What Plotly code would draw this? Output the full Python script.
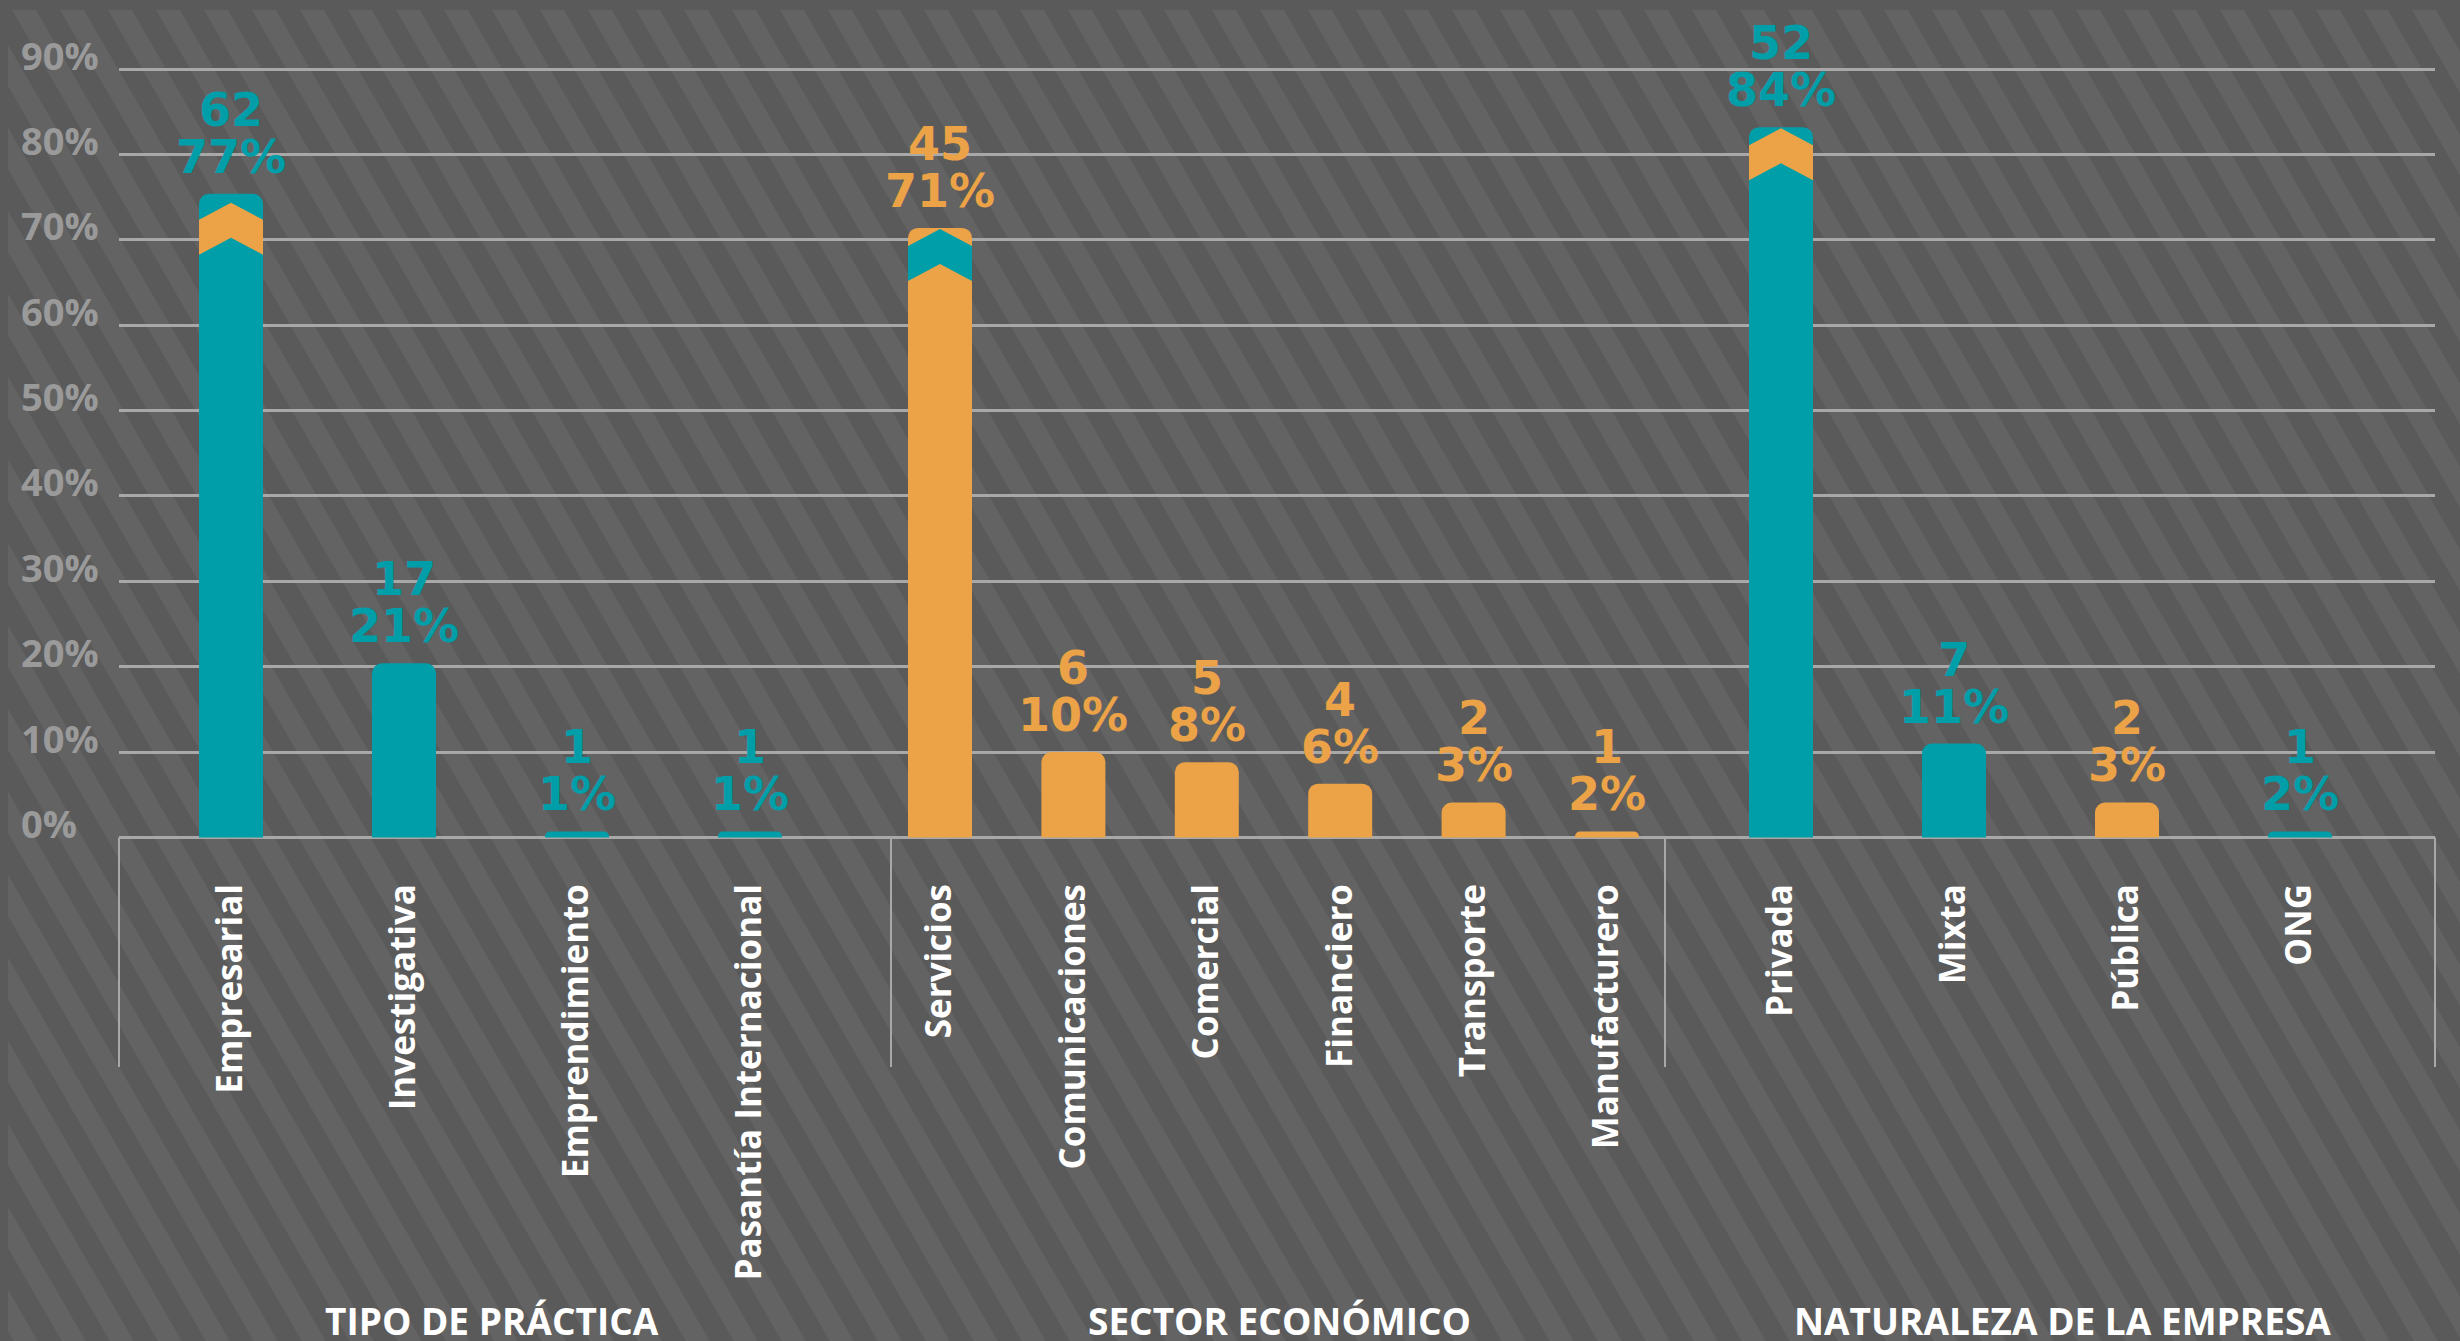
import plotly.graph_objects as go

# ---------------- data ----------------
categories = ["Empresarial", "Investigativa", "Emprendimiento", "Pasantía Internacional",
              "Servicios", "Comunicaciones", "Comercial", "Financiero", "Transporte", "Manufacturero",
              "Privada", "Mixta", "Pública", "ONG"]
group_names = ["TIPO DE PRÁCTICA", "SECTOR ECONÓMICO", "NATURALEZA DE LA EMPRESA"]
group_index = [0, 0, 0, 0, 1, 1, 1, 1, 1, 1, 2, 2, 2, 2]
counts = [62, 17, 1, 1, 45, 6, 5, 4, 2, 1, 52, 7, 2, 1]
percent_labels = [77, 21, 1, 1, 71, 10, 8, 6, 3, 2, 84, 11, 3, 2]
bar_values = [75.4, 20.4, 0.7, 0.7, 71.4, 10.0, 8.8, 6.3, 4.1, 0.7, 83.2, 11.0, 4.1, 0.7]
y_tick_values = [0, 10, 20, 30, 40, 50, 60, 70, 80, 90]
y_tick_labels = ["0%", "10%", "20%", "30%", "40%", "50%", "60%", "70%", "80%", "90%"]

# ---------------- style / layout ----------------
TEAL = "#009ea8"
ORANGE = "#eca246"
series_color = ["t", "t", "t", "t", "o", "o", "o", "o", "o", "o", "t", "t", "o", "t"]
cmap = {"t": TEAL, "o": ORANGE}
other = {"t": ORANGE, "o": TEAL}
bar_colors = [cmap[c] for c in series_color]

W, H = 2460, 1341
PL, PR = 119, 2435
PT, PB = 52, 846
Y_RANGE = [-1, 92]
SCALE = (PB - PT) / (Y_RANGE[1] - Y_RANGE[0])

group_first_center = [231, 940, 1781]
group_spacing = [173.0, 133.4, 173.0]
group_bounds = [119, 891, 1665, 2435]
title_x = [492, 1279, 2062]
BAR_W = 64

# chevron decorations: category index -> pixel offset of chevron peak below bar top
chevrons = {0: 9, 4: 1, 10: 1}


def ypx(v):
    return PB - (v - Y_RANGE[0]) * SCALE


def yval(px):
    return Y_RANGE[0] + (PB - px) / SCALE


def xp(px):
    return (px - PL) / (PR - PL)


def yp(px):
    return (PB - px) / (PB - PT)


# bar centres
xs = []
seen = {}
for g in group_index:
    i = seen.get(g, 0)
    xs.append(group_first_center[g] + i * group_spacing[g])
    seen[g] = i + 1

fig = go.Figure()

fig.add_trace(go.Bar(
    x=xs, y=bar_values, width=BAR_W,
    marker=dict(color=bar_colors, line=dict(width=0), cornerradius=10),
    hoverinfo="skip", showlegend=False,
))

# chevrons on the tallest bars
for idx, peak in chevrons.items():
    xc = xs[idx]
    top = ypx(bar_values[idx])
    rise, thick, half = 17, 35, BAR_W / 2
    pts_px = [(xc - half, top + peak + rise), (xc, top + peak), (xc + half, top + peak + rise),
              (xc + half, top + peak + rise + thick), (xc, top + peak + thick),
              (xc - half, top + peak + rise + thick), (xc - half, top + peak + rise)]
    fig.add_trace(go.Scatter(
        x=[p[0] for p in pts_px], y=[yval(p[1]) for p in pts_px],
        mode="lines", fill="toself", fillcolor=other[series_color[idx]],
        line=dict(width=0), hoverinfo="skip", showlegend=False,
    ))

annotations = []
label_font = "DejaVu Sans"
for i in range(len(categories)):
    col = bar_colors[i]
    annotations.append(dict(
        x=xs[i], y=bar_values[i], xref="x", yref="y", text=f"{percent_labels[i]}%",
        showarrow=False, yanchor="middle", xanchor="center", yshift=37,
        font=dict(family=label_font, size=46, color=col, weight="bold")))
    annotations.append(dict(
        x=xs[i], y=bar_values[i], xref="x", yref="y", text=str(counts[i]),
        showarrow=False, yanchor="middle", xanchor="center", yshift=84,
        font=dict(family=label_font, size=46, color=col, weight="bold")))

# y tick labels (left aligned, sitting on gridlines)
for v, t in zip(y_tick_values, y_tick_labels):
    annotations.append(dict(
        x=xp(19), y=v, xref="paper", yref="y", text=t, showarrow=False,
        xanchor="left", yanchor="middle", yshift=14.5,
        font=dict(family="Open Sans", size=38, color="#9a9a9a", weight="bold")))

# group titles
for g, name in enumerate(group_names):
    annotations.append(dict(
        x=title_x[g], y=yp(1320), xref="x", yref="paper", text=name, showarrow=False,
        xanchor="center", yanchor="middle",
        font=dict(family="Open Sans", size=37, color="#ffffff", weight="bold")))

# ---------------- background stripes ----------------
shapes = []
period, light_w = 48.0, 24.0
cot = 48.0 / 83.0
path = ""
x0 = 12 - 10 * cot
k = -int((H * cot) / period) - 3
while True:
    xt = x0 + k * period
    if xt > W + 10:
        break
    xb = xt + (H + 20) * cot
    path += (f"M{xp(xt - 10*cot):.5f},{yp(-10):.5f} L{xp(xt + light_w - 10*cot):.5f},{yp(-10):.5f} "
             f"L{xp(xb + light_w - 10*cot):.5f},{yp(H + 10):.5f} L{xp(xb - 10*cot):.5f},{yp(H + 10):.5f} Z ")
    k += 1
shapes.append(dict(type="path", path=path, xref="paper", yref="paper",
                   fillcolor="#636363", line=dict(width=0), layer="below"))
# plain frame on top and left
shapes.append(dict(type="rect", xref="paper", yref="paper", x0=xp(-5), x1=xp(W + 5), y0=yp(-5), y1=yp(10),
                   fillcolor="#5a5a5a", line=dict(width=0), layer="below"))
shapes.append(dict(type="rect", xref="paper", yref="paper", x0=xp(-5), x1=xp(8), y0=yp(-5), y1=yp(H + 5),
                   fillcolor="#5a5a5a", line=dict(width=0), layer="below"))

# group separators below the axis
for b in group_bounds:
    shapes.append(dict(type="line", xref="paper", yref="paper", x0=xp(b), x1=xp(b),
                       y0=yp(ypx(0)), y1=yp(1067), line=dict(color="#a8a8a8", width=2), layer="below"))

fig.update_layout(
    width=W, height=H,
    margin=dict(l=PL, r=W - PR, t=PT, b=H - PB, pad=0),
    paper_bgcolor="#5a5a5a", plot_bgcolor="rgba(0,0,0,0)",
    showlegend=False, hovermode=False,
    annotations=annotations, shapes=shapes,
    xaxis=dict(range=[PL, PR], tickvals=xs, ticktext=categories, tickangle=-90,
               showgrid=False, zeroline=False, showline=False, ticks="",
               ticklabelstandoff=30,
               tickfont=dict(family="Open Sans", size=35, color="#ffffff", weight="bold")),
    yaxis=dict(range=Y_RANGE, tickvals=y_tick_values, showticklabels=False,
               showgrid=True, gridcolor="#a8a8a8", gridwidth=3, zeroline=False, showline=False),
)

fig.write_html(
    "out.html",
    config={"displayModeBar": False, "staticPlot": True},
    post_script="document.body.style.margin='0';document.body.style.background='#5a5a5a';"
                "document.body.style.overflow='hidden';",
)
